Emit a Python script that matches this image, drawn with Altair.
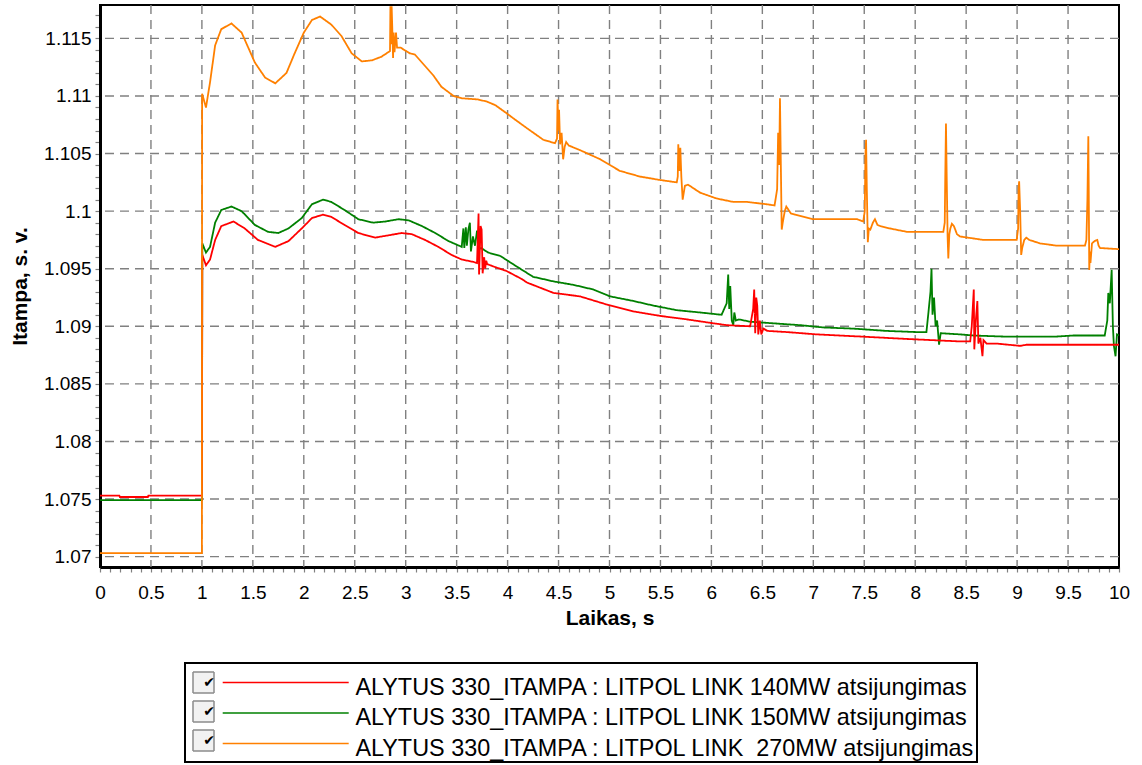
import altair as alt
import pandas as pd

# ---------------- data ----------------
SERIES = [
    "ALYTUS 330_ITAMPA : LITPOL LINK 140MW atsijungimas",
    "ALYTUS 330_ITAMPA : LITPOL LINK 150MW atsijungimas",
    "ALYTUS 330_ITAMPA : LITPOL LINK \u00a0270MW atsijungimas",
]
CHECK_KEYS = ["c1", "c2", "c3"]
COLORS = ["#ff0000", "#008000", "#ff8000"]

red_t = [0, 0.19, 0.195, 0.47, 0.475, 1.0, 1.004, 1.04, 1.08, 1.13, 1.19, 1.31, 1.42, 1.55, 1.72,
         1.85, 1.98, 2.08, 2.19, 2.27, 2.40, 2.535, 2.70, 2.83, 2.96, 3.06, 3.19, 3.32, 3.45, 3.55,
         3.66, 3.70, 3.715, 3.72, 3.735, 3.745, 3.755, 3.77, 3.78, 3.79, 3.80, 3.86, 3.99, 4.14,
         4.19, 4.45, 4.71, 4.97, 5.23, 5.50, 5.76, 5.99, 6.15, 6.38, 6.41, 6.42, 6.43, 6.44, 6.45,
         6.46, 6.475, 6.49, 6.51, 6.55, 6.74, 7.03, 7.49, 7.92, 8.41, 8.54, 8.555, 8.575, 8.58,
         8.595, 8.61, 8.62, 8.64, 8.66, 8.67, 8.70, 8.80, 9.03, 9.09, 10.0]
red_v = [1.0753, 1.0753, 1.07518, 1.07518, 1.0753, 1.0753, 1.0962, 1.0953, 1.0958, 1.0975, 1.0987,
         1.0991, 1.0985, 1.0975, 1.0969, 1.0974, 1.0985, 1.0994, 1.0997, 1.0995, 1.0988, 1.0981,
         1.0977, 1.0979, 1.0981, 1.0980, 1.0975, 1.0969, 1.0962, 1.0958, 1.0956, 1.0955, 1.0998,
         1.0945, 1.0987, 1.0984, 1.0946, 1.0960, 1.0950, 1.0957, 1.0954, 1.0952, 1.0948, 1.0941,
         1.0938, 1.0929, 1.0926, 1.0919, 1.0913, 1.0909, 1.0906, 1.0903, 1.0901, 1.0900, 1.0915,
         1.0932, 1.0894, 1.0925, 1.0918, 1.0893, 1.0905, 1.0893, 1.0898, 1.0896, 1.0895, 1.0893,
         1.0891, 1.0889, 1.0887, 1.0887, 1.0900, 1.0932, 1.0880, 1.0905, 1.0922, 1.0885, 1.0890,
         1.0874, 1.0888, 1.0885, 1.0885, 1.0883, 1.0884, 1.0884]

green_t = [0, 1.0, 1.004, 1.04, 1.08, 1.13, 1.19, 1.29, 1.39, 1.52, 1.65, 1.75, 1.85, 1.98, 2.08,
           2.19, 2.27, 2.40, 2.535, 2.68, 2.80, 2.93, 3.03, 3.16, 3.29, 3.42, 3.55, 3.566, 3.575,
           3.59, 3.60, 3.615, 3.63, 3.64, 3.66, 3.68, 3.70, 3.72, 3.74, 3.81, 3.93, 4.07, 4.25,
           4.45, 4.645, 4.84, 5.005, 5.234, 5.43, 5.66, 5.89, 6.10, 6.15, 6.165, 6.175, 6.185,
           6.20, 6.215, 6.225, 6.24, 6.27, 6.38, 6.54, 6.87, 7.10, 7.39, 7.72, 8.01, 8.11, 8.13,
           8.15, 8.16, 8.17, 8.185, 8.20, 8.215, 8.234, 8.25, 8.44, 8.57, 8.90, 9.37, 9.55, 9.86,
           9.885, 9.895, 9.91, 9.928, 9.94, 9.95, 9.966, 9.98, 10.0]
green_v = [1.0749, 1.0749, 1.0972, 1.0964, 1.0969, 1.0990, 1.1001, 1.1004, 1.1000, 1.0988, 1.0982,
           1.0981, 1.0985, 1.0994, 1.1006, 1.1010, 1.1008, 1.1001, 1.0993, 1.0990, 1.0991, 1.0993,
           1.0992, 1.0987, 1.0981, 1.0974, 1.0969, 1.0985, 1.0968, 1.0986, 1.0970, 1.0984, 1.0990,
           1.0965, 1.0978, 1.0970, 1.0983, 1.0967, 1.0968, 1.0964, 1.0961, 1.0953, 1.0943, 1.0939,
           1.0936, 1.0932, 1.0926, 1.0922, 1.0918, 1.0914, 1.0912, 1.0910, 1.0920, 1.0945, 1.0915,
           1.0935, 1.0905, 1.0901, 1.0912, 1.0905, 1.0906, 1.0904, 1.0903, 1.0901, 1.0899, 1.0898,
           1.0896, 1.0895, 1.0895, 1.0912, 1.0930, 1.0950, 1.0910, 1.0925, 1.0900, 1.0905, 1.0884,
           1.0894, 1.0893, 1.0892, 1.0891, 1.0891, 1.0892, 1.0892, 1.0905, 1.0929, 1.0920, 1.0949,
           1.0900, 1.0883, 1.0874, 1.0893, 1.0892]

orange_t = [0, 1.0, 1.002, 1.04, 1.08, 1.13, 1.19, 1.29, 1.39, 1.52, 1.62, 1.72, 1.83, 1.91, 2.00,
            2.08, 2.16, 2.27, 2.37, 2.47, 2.57, 2.67, 2.76, 2.846, 2.85, 2.858, 2.862, 2.868, 2.876,
            2.882, 2.89, 2.905, 2.915, 2.95, 3.04, 3.09, 3.22, 3.27, 3.35, 3.47, 3.55, 3.71, 3.80,
            3.88, 3.99, 4.05, 4.19, 4.35, 4.465, 4.485, 4.49, 4.50, 4.505, 4.515, 4.53, 4.545, 4.56,
            4.575, 4.60, 4.71, 4.91, 5.10, 5.30, 5.50, 5.66, 5.67, 5.675, 5.685, 5.695, 5.705,
            5.718, 5.74, 5.77, 5.89, 6.05, 6.215, 6.35, 6.54, 6.62, 6.645, 6.655, 6.665, 6.673,
            6.68, 6.69, 6.70, 6.72, 6.735, 6.75, 6.78, 6.82, 7.0, 7.43, 7.49, 7.505, 7.512, 7.518,
            7.525, 7.535, 7.545, 7.56, 7.585, 7.605, 7.63, 7.66, 7.75, 7.92, 8.276, 8.29, 8.295,
            8.302, 8.31, 8.318, 8.325, 8.335, 8.345, 8.36, 8.38, 8.41, 8.44, 8.67, 8.996, 9.01,
            9.015, 9.02, 9.03, 9.04, 9.05, 9.07, 9.09, 9.12, 9.225, 9.39, 9.666, 9.68, 9.69, 9.699,
            9.703, 9.708, 9.715, 9.72, 9.735, 9.76, 9.787, 9.80, 9.814, 10.0]
orange_v = [1.0703, 1.0703, 1.1102, 1.1090, 1.1112, 1.1144, 1.1158, 1.1163, 1.1155, 1.1129, 1.1116,
            1.1111, 1.1120, 1.1137, 1.1155, 1.1166, 1.1169, 1.1162, 1.1152, 1.1137, 1.1130, 1.1131,
            1.1134, 1.1139, 1.1178, 1.1145, 1.1178, 1.1160, 1.1133, 1.1155, 1.1138, 1.1155, 1.1142,
            1.1142, 1.1137, 1.1136, 1.1123, 1.1118, 1.1108, 1.1100, 1.1098, 1.1097, 1.1095, 1.1092,
            1.1085, 1.1081, 1.1072, 1.1062, 1.1059, 1.1063, 1.1097, 1.1070, 1.1088, 1.1058, 1.1068,
            1.1045, 1.1056, 1.1060, 1.1057, 1.1053, 1.1045, 1.1035, 1.1030, 1.1027, 1.1025, 1.1030,
            1.1058, 1.1035, 1.1055, 1.1030, 1.1010, 1.1022, 1.1023, 1.1016, 1.1011, 1.1008, 1.1008,
            1.1006, 1.1005, 1.1019, 1.1068, 1.1040, 1.1098, 1.1050, 1.0984, 1.0990, 1.1000, 1.1004,
            1.1002, 1.0998, 1.0997, 1.0993, 1.0993, 1.0991, 1.1000, 1.1050, 1.1062, 1.1020, 1.0973,
            1.0985, 1.0984, 1.0990, 1.0993, 1.0988, 1.0987, 1.0985, 1.0982, 1.0982, 1.0990, 1.1030,
            1.1076, 1.1025, 1.0978, 1.0959, 1.0980, 1.0985, 1.0989, 1.0987, 1.0980, 1.0978, 1.0975,
            1.0975, 1.0985, 1.1020, 1.1026, 1.1000, 1.0962, 1.0968, 1.0975, 1.0977, 1.0975, 1.0972,
            1.0970, 1.0970, 1.0975, 1.1010, 1.1065, 1.1020, 1.0949, 1.0965, 1.0955, 1.0972, 1.0974,
            1.0975, 1.0970, 1.0968, 1.0967]

X_TICKS = [round(i * 0.1, 1) for i in range(0, 101)]
Y_TICKS = [round(1.070 + i * 0.001, 3) for i in range(0, 48)]
X_GRID = [round(0.5 * i, 1) for i in range(1, 20)]
Y_GRID = [round(1.070 + 0.005 * i, 3) for i in range(0, 10)]

# ---------------- table ----------------
frames = []
for tt, vv, k in [(green_t, green_v, 1), (red_t, red_v, 0), (orange_t, orange_v, 2)]:
    frames.append(pd.DataFrame({"t": tt, "v": vv, "series": SERIES[k], "chk": CHECK_KEYS[k]}))
df = pd.concat(frames, ignore_index=True)

FONT = "Liberation Sans"
GRID_COLOR = "#808080"

x_scale = alt.Scale(domain=[0, 10], nice=False)
y_scale = alt.Scale(domain=[1.0691, 1.1179], nice=False, zero=False)


def x_axis():
    return alt.Axis(
        values=X_TICKS, format="~g",
        labelExpr="round(datum.value*10) % 5 == 0 ? datum.label : ''",
        grid=False, tickColor=GRID_COLOR, tickSize=5, tickWidth=1.2,
        domainColor="black", domainWidth=3,
        labelFont=FONT, labelFontSize=19, labelColor="black", labelPadding=11,
        labelOverlap=False, labelFlush=False,
        title="Laikas, s", titleFont=FONT, titleFontSize=21, titleFontWeight="bold",
        titleColor="black", titlePadding=5)


def y_axis():
    return alt.Axis(
        values=Y_TICKS, format="~g",
        labelExpr="round(datum.value*1000) % 5 == 0 ? datum.label : ''",
        grid=False, tickColor=GRID_COLOR, tickSize=5, tickWidth=1.2,
        domainColor="black", domainWidth=3,
        labelFont=FONT, labelFontSize=19, labelColor="black", labelPadding=4,
        labelOverlap=False, labelFlush=False,
        title="Itampa, s. v.", titleFont=FONT, titleFontSize=21, titleFontWeight="bold",
        titleColor="black", titleX=-80, titleAlign="center",
        titleBaseline="middle", titleAngle=270)


vgrid = alt.Chart(pd.DataFrame({"t": X_GRID})).mark_rule(
    color=GRID_COLOR, strokeDash=[9, 6], strokeWidth=1.4
).encode(x=alt.X("t:Q", scale=x_scale, axis=x_axis()))

hgrid = alt.Chart(pd.DataFrame({"v": Y_GRID})).mark_rule(
    color=GRID_COLOR, strokeDash=[9, 6], strokeWidth=1.4
).encode(y=alt.Y("v:Q", scale=y_scale, axis=y_axis()))

lines = alt.Chart(df).mark_line(strokeWidth=1.8, clip=True).encode(
    x=alt.X("t:Q", scale=x_scale, axis=x_axis()),
    y=alt.Y("v:Q", scale=y_scale, axis=y_axis()),
    color=alt.Color("series:N", scale=alt.Scale(domain=SERIES, range=COLORS), legend=alt.Legend(
        title="\u00a0", titleFontSize=6, titlePadding=6,
        orient="none", legendX=85, legendY=658, padding=1,
        strokeColor="black", fillColor="white",
        symbolType="M-6,-0.5H6", symbolSize=441, symbolStrokeWidth=1.6,
        symbolOffset=88, labelOffset=58,
        labelExpr="datum.label + '\u00a0'",
        labelFont=FONT, labelFontSize=23.4, labelColor="black", labelLimit=1000,
        rowPadding=5.5)),
    strokeDash=alt.StrokeDash("chk:N", scale=alt.Scale(domain=CHECK_KEYS, range=[[1, 0], [1, 0], [1, 0]]),
        legend=alt.Legend(
            title=None, orient="none", legendX=92, legendY=666, padding=0,
            symbolType="square", symbolSize=21 * 21, symbolStrokeColor="#8c8c8c",
            symbolFillColor="#f2f2f2", symbolStrokeWidth=1.5,
            labelExpr="'\u2714\u00a0'", labelFont="DejaVu Sans", labelFontSize=14,
            labelAlign="right", labelColor="black", labelOffset=0, rowPadding=2)),
)

chart = alt.layer(vgrid, hgrid, lines).properties(
    width=1019, height=562,
    autosize=alt.AutoSizeParams(type="none"),
    padding={"left": 100, "top": 5, "right": 23, "bottom": 198},
    background="white",
).configure_view(stroke="black", strokeWidth=2).configure_legend(strokeWidth=2)

chart.save("out.html", embed_options={"renderer": "svg", "actions": False})
